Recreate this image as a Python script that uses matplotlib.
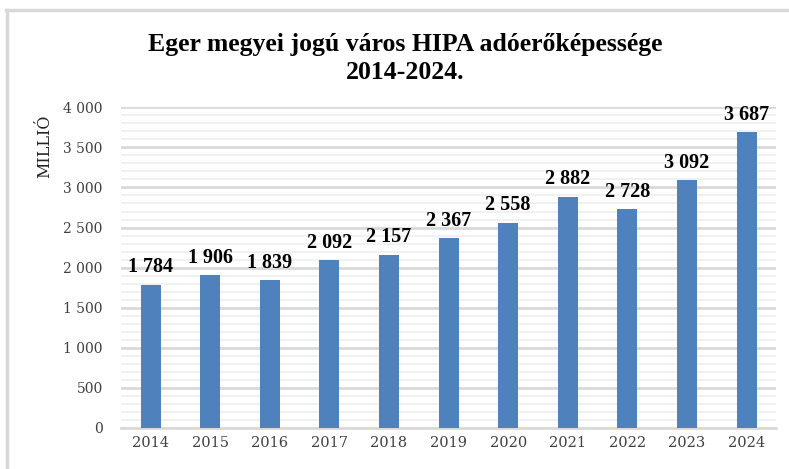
import matplotlib.pyplot as plt
from matplotlib.ticker import MultipleLocator, FuncFormatter
from matplotlib.lines import Line2D

# adatok
evek = ['2014', '2015', '2016', '2017', '2018', '2019', '2020', '2021', '2022', '2023', '2024']
ertekek = [1784, 1906, 1839, 2092, 2157, 2367, 2558, 2882, 2728, 3092, 3687]
cim = 'Eger megyei jogú város HIPA adóerőképessége\n2014-2024.'
y_felirat = 'MILLIÓ'


def ezres(v, pos=None):
    return f'{int(v):,}'.replace(',', ' ')


fig = plt.figure(figsize=(7.89, 4.69), dpi=100)
ax = fig.add_axes([0.153, 0.088, 0.831, 0.683])

x = range(len(evek))
ax.bar(x, ertekek, width=0.335, color='#4F81BD', zorder=3)

# címkék az oszlopok fölött
for i, v in zip(x, ertekek):
    ax.annotate(ezres(v), (i, v), xytext=(0, 9), textcoords='offset points',
                ha='center', va='baseline', fontsize=14.5, fontweight='bold',
                family='Liberation Serif', color='black')

ax.set_xlim(-0.5, len(evek) - 0.5)
ax.set_ylim(0, 4000)
ax.set_xticks(list(x))
ax.set_xticklabels(evek, family='DejaVu Serif', fontsize=10.5, color='#404040')
ax.yaxis.set_major_locator(MultipleLocator(500))
ax.yaxis.set_minor_locator(MultipleLocator(100))
ax.yaxis.set_major_formatter(FuncFormatter(ezres))
for lbl in ax.get_yticklabels():
    lbl.set_family('DejaVu Serif')
    lbl.set_fontsize(10)
    lbl.set_color('#404040')

ax.grid(axis='y', which='major', color='#d9d9d9', linewidth=2, zorder=0)
ax.grid(axis='y', which='minor', color='#efefef', linewidth=1.2, zorder=0)
ax.tick_params(axis='both', which='both', length=0)
ax.tick_params(axis='y', pad=13)
ax.tick_params(axis='x', pad=6)
for s in ['top', 'right', 'left']:
    ax.spines[s].set_visible(False)
ax.spines['bottom'].set_color('#d9d9d9')
ax.spines['bottom'].set_linewidth(2)

fig.text(0.513, 0.875, cim, ha='center', va='center', fontsize=18.5,
         fontweight='bold', family='Liberation Serif', linespacing=1.25)
fig.text(0.057, 0.755, y_felirat, rotation=90, ha='center', va='top',
         fontsize=11.5, family='DejaVu Serif', color='#222222')

# keret
fig.add_artist(Line2D([0.007, 1.0], [0.978, 0.978], transform=fig.transFigure,
                      color='#d9d9d9', linewidth=2.5))
fig.add_artist(Line2D([0.009, 0.009], [0.0, 0.978], transform=fig.transFigure,
                      color='#d9d9d9', linewidth=2.5))

fig.savefig('out.png', dpi=100)
